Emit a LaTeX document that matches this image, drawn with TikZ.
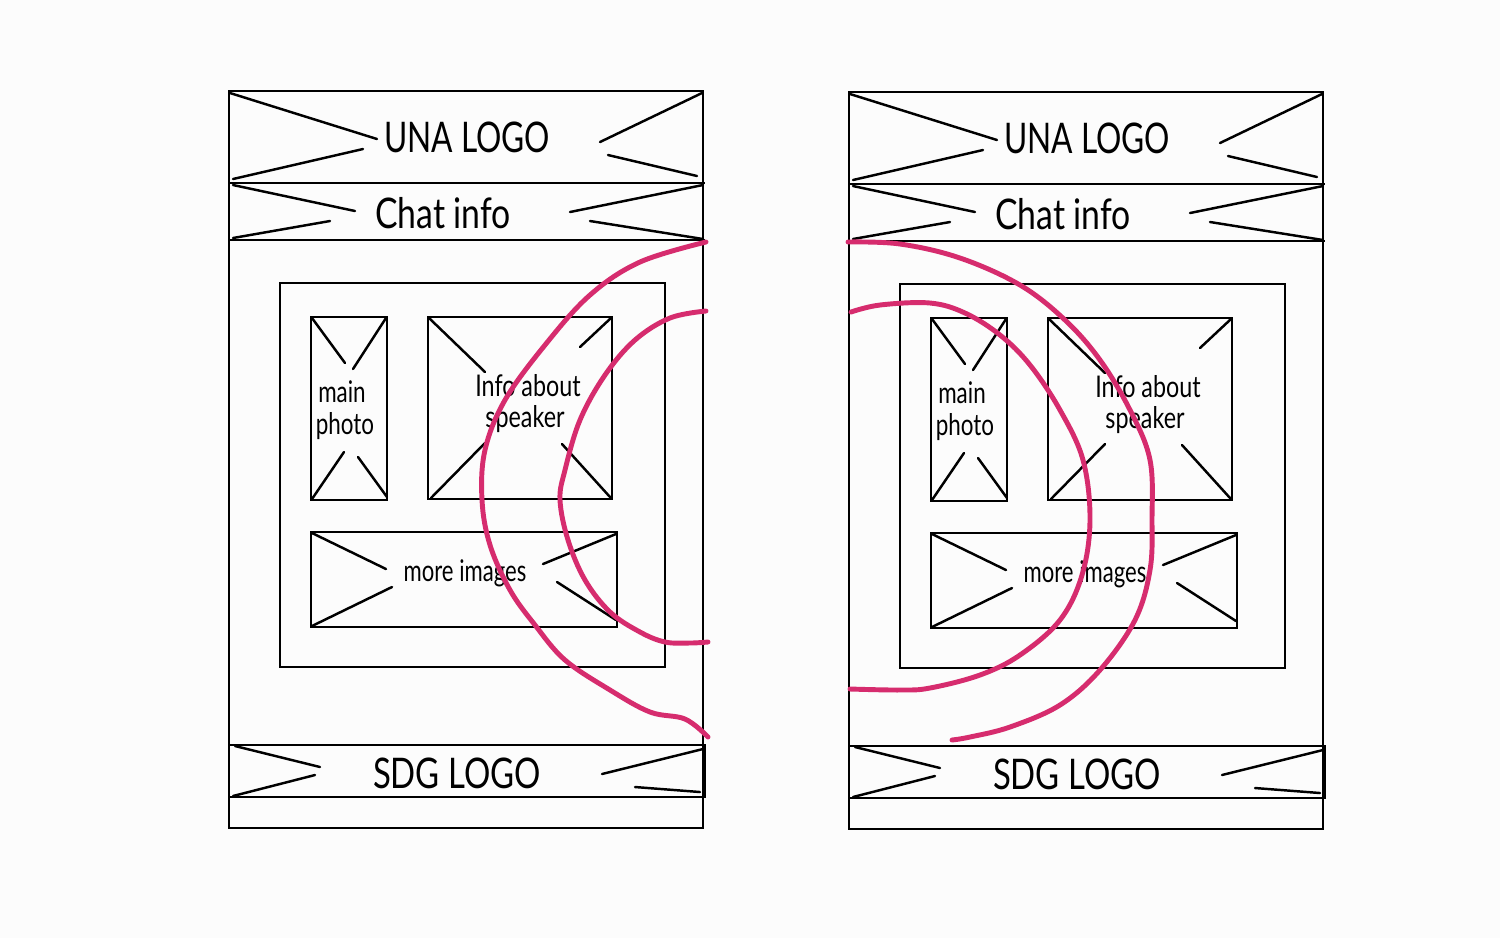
\documentclass[tikz,border=0pt]{standalone}
\usepackage{fontspec}
\setmainfont{Lato}
\definecolor{paper}{RGB}{252,252,252}
\definecolor{marker}{RGB}{214,44,110}

\begin{document}
\begin{tikzpicture}[
    x=0.01cm, y=-0.01cm,
    frame/.style={
        draw,
        line width=0.75pt
    },
    cross/.style={
        draw,
        line width=0.7pt,
        line cap=round
    },
    bigtext/.style={
        inner sep=0pt,
        font=\fontsize{12}{14}\selectfont
    },
    smalltext/.style={
        inner sep=0pt,
        font=\fontsize{8.5}{10}\selectfont
    },
    swirl/.style={
        draw=marker,
        line width=1.4pt,
        line cap=round,
        line join=round
    }
]

% =====================
% SFONDO
% =====================
\fill[paper] (0,0) rectangle (1500,938);
\useasboundingbox (0,0) rectangle (1500,938);

% =====================
% WIREFRAME (due volte)
% =====================
\foreach \dx/\dy in {0/0,620/1} {
\begin{scope}[shift={(\dx,\dy)}]
    % cornice telefono
    \draw[frame] (229,91) rectangle (703,828);
    \draw[frame] (229,183) -- (705,183);
    \draw[frame] (229,240) -- (705,240);
    \draw[frame] (229,745) rectangle (705,797);

    % contenitore interno
    \draw[frame] (280,283) rectangle (665,667);
    \draw[frame] (311,317) rectangle (387,500);
    \draw[frame] (428,317) rectangle (612,499);
    \draw[frame] (311,532) rectangle (617,627);

    % testi
    \node[bigtext] (una\dx) at (467,137) {\scalebox{0.75}[1]{UNA LOGO}};
    \node[bigtext] (chat\dx) at (443,213) {\scalebox{0.8}[1]{Chat info}};
    \node[bigtext] (sdg\dx) at (457,773) {\scalebox{0.78}[1]{SDG LOGO}};
    \node[smalltext] (main\dx) at (342,392) {\scalebox{0.75}[1]{main}};
    \node[smalltext] (photo\dx) at (345,426) {\scalebox{0.75}[1]{photo}};
    \node[smalltext] (info\dx) at (528,386) {\scalebox{0.78}[1]{Info about}};
    \node[smalltext] (speaker\dx) at (525,419) {\scalebox{0.78}[1]{speaker}};
    \node[smalltext] (more\dx) at (465,573) {\scalebox{0.74}[1]{more images}};

    % croci segnaposto
    \path[cross] (230,93) -- (377,139);
    \path[cross] (233,179) -- (363,149);
    \path[cross] (702,93) -- (600,142);
    \path[cross] (697,176) -- (608,155);

    \path[cross] (233,185) -- (355,211);
    \path[cross] (233,238) -- (330,221);
    \path[cross] (703,185) -- (570,212);
    \path[cross] (703,239) -- (590,221);

    \path[cross] (312,318) -- (345,363);
    \path[cross] (386,318) -- (353,369);
    \path[cross] (312,499) -- (344,452);
    \path[cross] (387,497) -- (358,457);

    \path[cross] (429,318) -- (485,372);
    \path[cross] (611,318) -- (580,347);
    \path[cross] (431,498) -- (485,443);
    \path[cross] (610,497) -- (562,444);

    \path[cross] (312,533) -- (386,569);
    \path[cross] (312,626) -- (392,587);
    \path[cross] (616,534) -- (543,564);
    \path[cross] (616,620) -- (557,582);

    \path[cross] (235,746) -- (320,767);
    \path[cross] (233,796) -- (315,775);
    \path[cross] (703,749) -- (602,774);
    \path[cross] (700,792) -- (635,787);
\end{scope}
}

% =====================
% SEGNI A MANO
% =====================

% sinistra
\draw[swirl] plot[smooth, tension=0.6] coordinates {
    (706,242) (640,262) (590,295) (545,345) (505,400) (485,450)
    (482,500) (490,545) (510,590) (535,625) (565,660) (610,690)
    (650,712) (685,719) (708,737)};
\draw[swirl] plot[smooth, tension=0.6] coordinates {
    (706,311) (670,318) (635,340) (605,375) (580,420) (565,470)
    (560,500) (568,540) (585,580) (610,612) (640,632) (665,642)
    (690,643) (708,642)};

% destra
\draw[swirl] plot[smooth, tension=0.6] coordinates {
    (848,242) (900,244) (960,258) (1020,285) (1065,320) (1100,360)
    (1130,410) (1150,460) (1152,520) (1150,570) (1135,620) (1100,670)
    (1060,705) (1010,727) (970,737) (952,740)};
\draw[swirl] plot[smooth, tension=0.6] coordinates {
    (851,312) (880,305) (930,303) (965,313) (1000,335) (1030,365)
    (1060,410) (1083,460) (1090,520) (1082,575) (1060,620) (1020,655)
    (980,675) (930,688) (900,690) (850,689)};

\end{tikzpicture}
\end{document}
